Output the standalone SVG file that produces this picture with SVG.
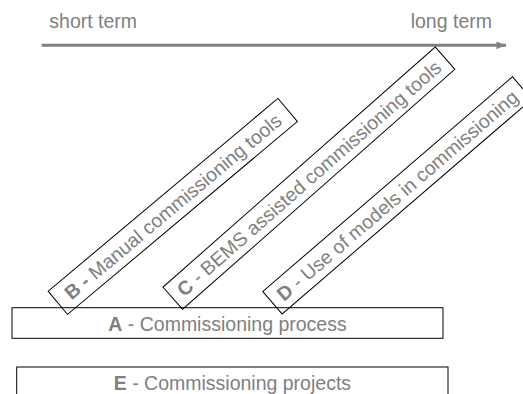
<svg xmlns="http://www.w3.org/2000/svg" width="523" height="394" viewBox="0 0 523 394">
  <style>
    .box { fill: none; stroke: #000; stroke-width: 1; }
    .lbl { font-family: "Liberation Sans", Arial, sans-serif; font-size: 19.5px; fill: #808080; }
    .b { font-weight: bold; }
  </style>
  <defs>
    <marker id="arrow" viewBox="0 0 10 8" refX="10" refY="4" markerWidth="3.2" markerHeight="2.6" orient="auto" markerUnits="strokeWidth">
      <path d="M0,0 L10,4 L0,8 Z" fill="#808080"/>
    </marker>
  </defs>
  <rect width="523" height="394" fill="#fff"/>

  <g id="timeline">
    <text class="lbl" x="49.3" y="28">short term</text>
    <text class="lbl" x="410.7" y="28">long term</text>
  </g>

  <g id="connectors">
    <line x1="41.7" y1="45.3" x2="506" y2="45.3" stroke="#808080" stroke-width="3" marker-end="url(#arrow)"/>
  </g>

  <g id="nodeB" transform="translate(172.75,206.4) rotate(-40)">
    <rect class="box" x="-150" y="-15.1" width="300" height="30.2"/>
    <text class="lbl" x="0" y="7" text-anchor="middle"><tspan class="b">B -</tspan> Manual commissioning tools</text>
  </g>

  <g id="nodeC" transform="translate(308.9,178.2) rotate(-41.4)">
    <rect class="box" x="-181.5" y="-14.8" width="363" height="29.6"/>
    <text class="lbl" x="0" y="7" text-anchor="middle"><tspan class="b">C</tspan> - BEMS assisted commissioning tools</text>
  </g>

  <g id="nodeD" transform="translate(397.3,195.35) rotate(-40.7)">
    <rect class="box" x="-164.7" y="-14.85" width="329.4" height="29.7"/>
    <text class="lbl" x="0" y="7" text-anchor="middle"><tspan class="b">D</tspan> - Use of models in commissioning</text>
  </g>

  <g id="nodeA">
    <rect class="box" x="12" y="307.7" width="431" height="30.6"/>
    <text class="lbl" x="227.5" y="330.7" text-anchor="middle"><tspan class="b">A</tspan> - Commissioning process</text>
  </g>

  <g id="nodeE">
    <rect class="box" x="16.7" y="367" width="431.3" height="31"/>
    <text class="lbl" x="232.4" y="390" text-anchor="middle"><tspan class="b">E</tspan> - Commissioning projects</text>
  </g>
</svg>
